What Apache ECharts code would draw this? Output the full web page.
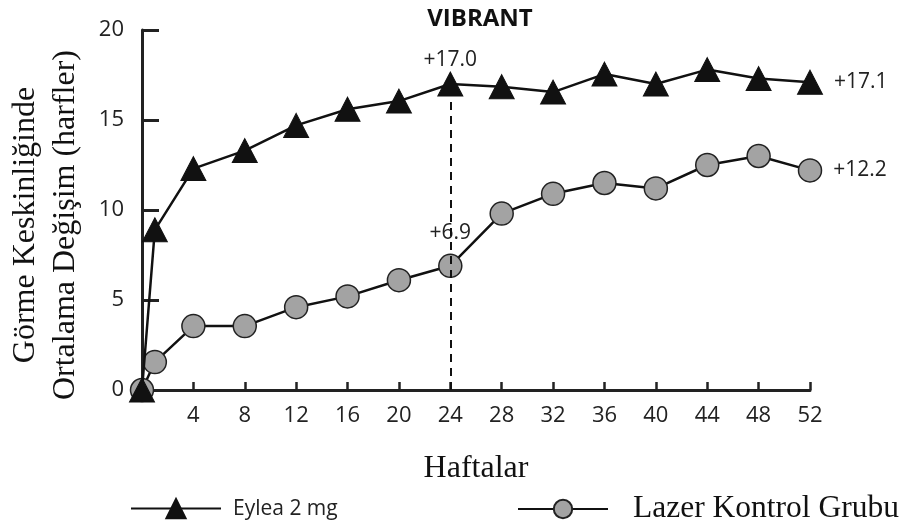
<!DOCTYPE html>
<html><head><meta charset="utf-8">
<script src="https://cdn.jsdelivr.net/npm/echarts@6/dist/echarts.min.js"></script>
<style>html,body{margin:0;padding:0;background:#fff}#c{width:902px;height:527px}</style>
</head><body><div id="c"></div>
<script>
const weeks = [0, 1, 4, 8, 12, 16, 20, 24, 28, 32, 36, 40, 44, 48, 52];
const eylea = [0, 8.9, 12.3, 13.3, 14.7, 15.6, 16.05, 17.0, 16.85, 16.55, 17.55, 17.0, 17.8, 17.3, 17.1];
const lazer = [0, 1.55, 3.55, 3.55, 4.6, 5.2, 6.1, 6.9, 9.8, 10.9, 11.5, 11.2, 12.5, 13.0, 12.2];
const eyleaLabels = {24: '+17.0', 52: '+17.1'};
const lazerLabels = {24: '+6.9', 52: '+12.2'};
const xTicks = [4, 8, 12, 16, 20, 24, 28, 32, 36, 40, 44, 48, 52];
const yTicks = [0, 5, 10, 15, 20];
const title = 'VIBRANT';
const seriesNames = ['Eylea 2 mg', 'Lazer Kontrol Grubu'];

const labelFont = {fontFamily: 'Open Sans', fontSize: 21, color: '#222'};
function build(vals, labels, topDist) {
  return weeks.map((w, i) => {
    const o = {value: [w, vals[i]]};
    if (labels[w]) {
      o.label = Object.assign({show: true, formatter: labels[w],
        position: w === 52 ? 'right' : 'top', distance: w === 52 ? 11 : topDist}, labelFont);
    }
    return o;
  });
}
const chart = echarts.init(document.getElementById('c'));
chart.setOption({
  animation: false,
  title: {text: title, left: 475, textAlign: 'center', top: 2,
    textStyle: {fontFamily: 'Open Sans', fontWeight: 'bold', fontSize: 24, color: '#111'}},
  grid: {left: 142, right: 92, top: 30, bottom: 137, outerBoundsMode: 'none', containLabel: false},
  legend: [
    {data: [seriesNames[0]], left: 130, top: 498, padding: 0, itemWidth: 90, itemHeight: 24, itemGap: 0,
      textStyle: {fontFamily: 'Open Sans', fontSize: 21, color: '#222', padding: [0,0,0,7]}},
    {data: [seriesNames[1]], left: 517, top: 493, padding: 0, itemWidth: 90, itemHeight: 23, itemGap: 0,
      textStyle: {fontFamily: 'Liberation Serif', fontSize: 31.5, color: '#111', padding: [0,0,0,20]}}
  ],
  xAxis: {type: 'value', min: 0, max: 52, interval: 4,
    name: 'Haftalar', nameLocation: 'middle', nameGap: 63,
    nameTextStyle: {fontFamily: 'Liberation Serif', fontSize: 32, color: '#111'},
    axisLine: {lineStyle: {color: '#222', width: 3}},
    axisTick: {inside: true, length: 8, lineStyle: {color: '#222', width: 2.5}},
    axisLabel: {fontFamily: 'Open Sans', fontSize: 22, color: '#222', margin: 15,
      formatter: v => xTicks.includes(v) ? String(v) : ''},
    splitLine: {show: false}},
  yAxis: {type: 'value', min: 0, max: 20, interval: 5,
    name: 'Görme Keskinliğinde\nOrtalama Değişim (harfler)', nameLocation: 'middle', nameGap: 56,
    nameTextStyle: {fontFamily: 'Liberation Serif', fontSize: 32, color: '#111', lineHeight: 40,
      padding: [0, 30, 0, 0]},
    axisLine: {show: true, lineStyle: {color: '#222', width: 3}},
    axisTick: {show: true, inside: true, length: 17, lineStyle: {color: '#222', width: 3}},
    axisLabel: {fontFamily: 'Open Sans', fontSize: 22, color: '#222', margin: 18,
      formatter: v => yTicks.includes(v) ? String(v) : ''},
    splitLine: {show: false}},
  series: [
    {name: seriesNames[0], type: 'line', data: build(eylea, eyleaLabels, 1), z: 3,
      symbol: 'triangle', symbolSize: [25, 24],
      itemStyle: {color: '#111', borderColor: '#111', borderWidth: 1},
      lineStyle: {color: '#111', width: 2.5},
      markLine: {symbol: 'none', silent: true, label: {show: false},
        lineStyle: {color: '#111', type: [8, 6], width: 2},
        data: [[{coord: [24, 0]}, {coord: [24, 16.3]}]]}},
    {name: seriesNames[1], type: 'line', data: build(lazer, lazerLabels, 10), z: 2,
      symbol: 'circle', symbolSize: 23,
      itemStyle: {color: '#a3a3a3', borderColor: '#222', borderWidth: 1.5},
      lineStyle: {color: '#111', width: 2.5}}
  ]
});
</script></body></html>
